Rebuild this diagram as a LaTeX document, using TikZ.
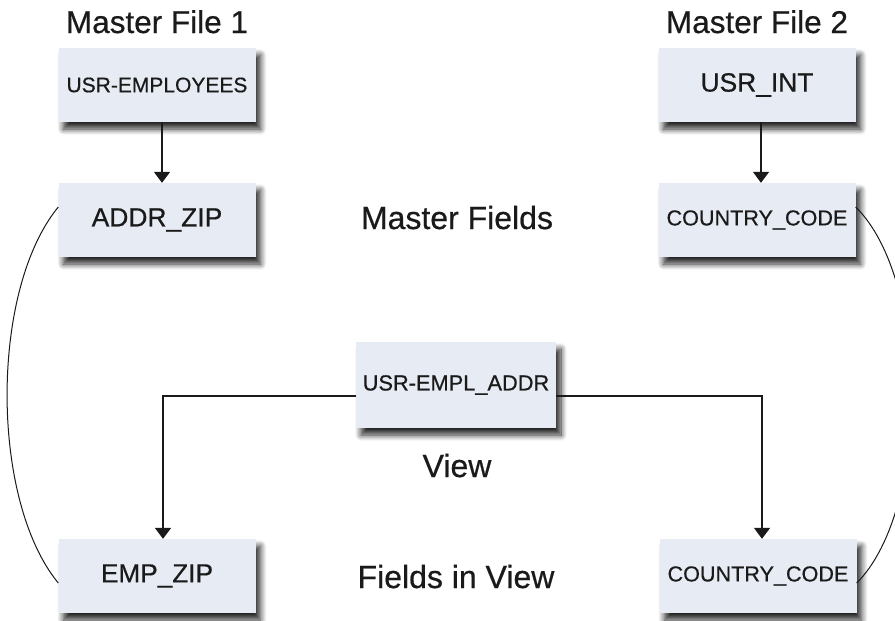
\documentclass[tikz,border=0pt]{standalone}
\usepackage{fontspec}
\setmainfont{Liberation Sans}[FakeBold=0.6]
\usetikzlibrary{arrows.meta,shadows.blur}
\definecolor{boxfill}{HTML}{E7EBF3}
\definecolor{ink}{HTML}{1A1A1A}
\begin{document}
\begin{tikzpicture}[x=1pt,y=-1pt,
  fieldbox/.style={draw=none, fill=boxfill, minimum width=197pt, minimum height=74pt,
    inner sep=0pt, text=ink,
    blur shadow={shadow xshift=5pt, shadow yshift=-7pt, shadow blur radius=6pt,
      shadow blur steps=10, shadow opacity=85}},
  caption/.style={font=\fontsize{32}{38}\selectfont, text=ink, inner sep=0pt, anchor=base},
  link/.style={draw=ink, line width=1.7pt, -{Triangle[width=16pt,length=11pt]}},
  bendline/.style={draw=ink, line width=1pt}]
\useasboundingbox (0,0) rectangle (895,621);

% titles
\node[caption, font=\fontsize{31.5}{38}\selectfont] (mf1) at (157,33) {Master File 1};
\node[caption, font=\fontsize{31.5}{38}\selectfont] (mf2) at (757,33) {Master File 2};
\node[caption] (mfields) at (457,229) {Master Fields};
\node[caption] (viewlbl) at (457,477) {View};
\node[caption] (fiv) at (456,588) {Fields in View};

% boxes
\node[fieldbox, font=\fontsize{21}{24}\selectfont] (emp) at (157,85) {USR-EMPLOYEES};
\node[fieldbox, font=\fontsize{26.4}{30}\selectfont] (usrint) at (757,85) {USR\_INT};
\node[fieldbox, font=\fontsize{26.4}{30}\selectfont] (addr) at (157,220) {ADDR\_ZIP};
\node[fieldbox, font=\fontsize{21.6}{25}\selectfont] (cc1) at (757,220) {COUNTRY\_CODE};
\node[fieldbox, minimum width=200pt, minimum height=86pt, font=\fontsize{21.8}{25}\selectfont] (view) at (456,385) {USR-EMPL\_ADDR};
\node[fieldbox, font=\fontsize{26.2}{30}\selectfont] (empzip) at (157,576) {EMP\_ZIP};
\node[fieldbox, font=\fontsize{21.6}{25}\selectfont] (cc2) at (758,576) {COUNTRY\_CODE};

% arrows
\draw[link] ([xshift=5pt]emp.south) -- ([xshift=5pt]addr.north);
\draw[link] ([xshift=4pt]usrint.south) -- ([xshift=4pt]cc1.north);
\draw[link] ([yshift=-11pt]view.west) -| ([xshift=6pt]empzip.north);
\draw[link] ([yshift=-11pt]view.east) -| ([xshift=4pt]cc2.north);

% curves linking master fields and view fields
\draw[bendline] ([yshift=13pt]addr.west) .. controls (-10,290) and (-10,500) .. ([yshift=-7pt]empzip.west);
\draw[bendline] ([yshift=13pt]cc1.east) .. controls (930,280) and (930,510) .. ([yshift=-7pt]cc2.east);
\end{tikzpicture}
\end{document}
